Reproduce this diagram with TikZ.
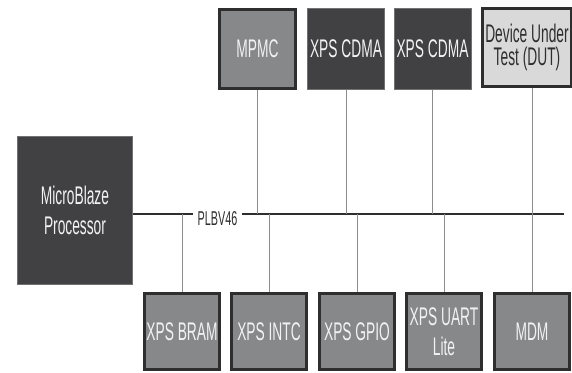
\documentclass[tikz,border=0pt]{standalone}
\usepackage{fontspec}
\setmainfont[FakeStretch=0.54]{Liberation Sans}
\definecolor{coreDark}{HTML}{414143}
\definecolor{periphGray}{HTML}{87888A}
\definecolor{dutLight}{HTML}{D9D9D9}
\definecolor{edgeDark}{HTML}{2E2E2E}
\definecolor{wireGray}{HTML}{8C8C8C}
\definecolor{labelWhite}{HTML}{F2F2F2}

\begin{document}
\begin{tikzpicture}[x=1pt, y=-1pt,
      blk/.style={inner sep=0pt, align=center, text=labelWhite,
            font=\fontsize{25.5}{30.5}\selectfont},
      darkblk/.style={blk, fill=coreDark, draw=coreDark!75!white, line width=1pt},
      grayblk/.style={blk, fill=periphGray, draw=edgeDark, line width=3pt},
      dutblk/.style={blk, fill=dutLight, draw=edgeDark, line width=3pt, text=edgeDark},
      wire/.style={draw=wireGray, line width=0.9pt},
      bus/.style={draw=edgeDark, line width=1.1pt}]
      \useasboundingbox (0,0) rectangle (572,372);

      % Processor
      \node[darkblk, minimum width=115pt, minimum height=148pt] (proc) at (75,210.5) {MicroBlaze\\Processor};

      % Top row
      \node[grayblk, minimum width=76pt, minimum height=79pt] (mpmc) at (257.5,49) {MPMC};
      \node[darkblk, minimum width=77pt, minimum height=81pt] (cdmaA) at (346,49) {XPS CDMA};
      \node[darkblk, minimum width=77pt, minimum height=81pt] (cdmaB) at (432.5,49) {XPS CDMA};
      \node[dutblk, minimum width=89pt, minimum height=78pt, font=\fontsize{25.5}{23}\selectfont] (dut) at (527,47.5) {Device Under\\Test (DUT)};

      % Bottom row
      \foreach \nm/\x/\txt in {bram/182/{XPS BRAM}, intc/269/{XPS INTC}, gpio/357/{XPS GPIO}, uart/444/{XPS UART\\Lite}, mdm/532/{MDM}} {
            \node[grayblk, minimum width=75pt, minimum height=76pt] (\nm) at (\x,331.5) {\txt};
      }

      % Bus
      \coordinate (busR) at (564,214);
      \draw[bus] (proc.east |- busR) -- (busR);
      \foreach \nm in {mpmc,cdmaA,cdmaB} {
            \draw[wire] (\nm.south) -- (\nm.south |- busR);
      }
      \foreach \nm in {bram,intc,gpio,uart} {
            \draw[wire] (\nm.north) -- (\nm.north |- busR);
      }
      \draw[wire] (dut.south -| mdm.north) -- (mdm.north);
      \node[fill=white, text=edgeDark, inner xsep=5pt, inner ysep=1pt, anchor=base,
            font=\fontsize{20}{20}\selectfont] (plb) at (217.5,225) {PLBV46};
\end{tikzpicture}
\end{document}
